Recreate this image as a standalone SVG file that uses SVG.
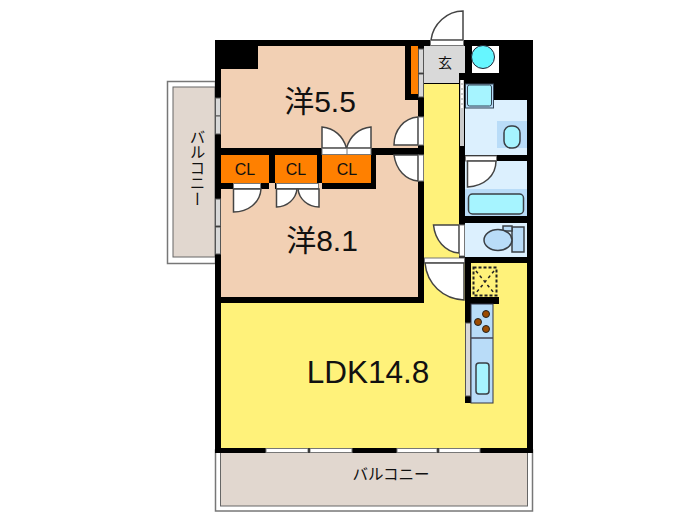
<svg xmlns="http://www.w3.org/2000/svg" width="700" height="525" viewBox="0 0 700 525">
<style>
text{font-family:"Liberation Sans","Noto Sans CJK JP",sans-serif;fill:#111;text-anchor:middle}
.big{font-size:30px}.cl{font-size:16px}.bal{font-size:15.500px}
.k{fill:#000}.y{fill:#fff27a}.p{fill:#f2d0b4}.o{fill:#ff8000}.lb{fill:#dcf0fe}.mb{fill:#b9dcf8}.cy{fill:#a6f4ff}
.e{stroke:#3a3f45;stroke-width:1.5}
.d{fill:#fff;stroke:#444;stroke-width:1.5}
.w{fill:#fff;stroke:#777;stroke-width:1}
.g{fill:#d8d8d8;stroke:#555;stroke-width:1}
</style>
<rect width="700" height="525" fill="#fff"/>
<g id="balcony-left">
<rect x="167.500" y="81.500" width="48" height="182" fill="#fff" stroke="#777" stroke-width="1.500"/>
<rect x="173" y="87" width="42" height="170" fill="#e1d7cf" stroke="#666"/>
<text class="bal" writing-mode="vertical-rl" x="196" y="168">バルコニー</text>
</g>
<g id="balcony-bottom">
<rect x="215.500" y="450" width="317" height="61" fill="#fff" stroke="#777" stroke-width="1.500"/>
<rect x="220.500" y="452" width="307" height="54" fill="#e1d7cf" stroke="#666"/>
<text class="bal" x="391" y="480">バルコニー</text>
</g>
<g id="walls">
<rect class="k" x="215" y="40" width="318" height="413"/>
</g>
<g id="room-5-5">
<path class="p" d="M258 46H405V100H418V148H221V69H258Z"/>
<text class="big" x="320" y="112">洋5.5</text>
</g>
<g id="room-8-1">
<path class="p" d="M221 189H269V183H275V189H317V183H322V189H376V155H418V297H221Z"/>
<text class="big" x="322" y="251">洋8.1</text>
</g>
<g id="closets">
<rect class="o" x="221" y="155" width="48" height="28"/>
<rect class="o" x="275" y="155" width="42" height="28"/>
<rect class="o" x="322" y="155" width="49" height="28"/>
<rect class="o" x="411" y="46" width="7" height="48"/>
<text class="cl" x="245" y="174.500">CL</text>
<text class="cl" x="296" y="174.500">CL</text>
<text class="cl" x="347" y="174.500">CL</text>
</g>
<g id="ldk">
<path class="y" d="M221 303H424V84H459V258H465V263H527V448H221Z"/>
<rect class="k" x="465" y="258" width="6" height="145"/>
<rect class="k" x="465" y="297" width="34" height="7"/>
<text class="big" x="368" y="383" style="font-size:31.500px">LDK14.8</text>
</g>
<g id="entry">
<path fill="#d9d9d9" d="M424 46H465V73H459V83H424Z"/>
<text x="445" y="68" style="font-size:14px">玄</text>
<path class="d" d="M431 40C433 24 447 11 463 11V40Z"/>
<rect class="w" x="430.500" y="40.500" width="33" height="5"/>
</g>
<g id="meter">
<rect fill="#fff" x="472" y="46" width="27" height="27"/>
<circle cx="483" cy="57" r="11.500" fill="#66f6ff" stroke="#223" stroke-width="1"/>
</g>
<g id="wash">
<path class="lb" d="M465 100H527V155H465Z"/>
<rect class="mb" x="465.500" y="84" width="28" height="24" stroke="#345"/>
<rect class="cy" x="467.500" y="85" width="24" height="21" rx="2" stroke="#345"/>
<rect class="mb" x="497" y="121" width="30" height="27"/>
<rect class="cy e" x="504" y="126" width="16" height="22" rx="7"/>
<rect x="465" y="155" width="62" height="6" fill="#000"/>
</g>
<g id="bath">
<rect class="lb" x="465" y="161" width="62" height="28"/>
<rect class="mb" x="465" y="189" width="62" height="27"/>
<rect class="cy e" x="468.500" y="194" width="55" height="20" rx="4"/>
<rect class="w" x="465.500" y="156" width="31" height="5"/>
<path class="d" d="M467.500 161H496C496 176 484 186 467.500 187Z"/>
</g>
<g id="toilet">
<rect class="lb" x="465" y="223" width="62" height="34"/>
<rect class="mb e" x="512" y="227" width="12" height="25" stroke-width="1"/>
<rect class="mb e" x="503" y="226" width="9" height="5"/>
<ellipse cx="498" cy="240" rx="14" ry="10.500" class="mb e"/>
</g>
<g id="closet-dashed">
<rect x="473.500" y="267.500" width="23" height="28" fill="none" stroke="#222" stroke-width="2" stroke-dasharray="3 2"/>
<path d="M476 271L494 293M494 271L476 293" stroke="#222" stroke-width="1.500" stroke-dasharray="3 3" fill="none"/>
</g>
<g id="kitchen">
<rect class="mb" x="471" y="304" width="22" height="99" stroke="#334" stroke-width="1"/>
<circle cx="486" cy="314" r="3.500" fill="#9c4a00" stroke="#222"/>
<circle cx="478" cy="322" r="3.500" fill="#9c4a00" stroke="#222"/>
<circle cx="486" cy="329" r="3.500" fill="#9c4a00" stroke="#222"/>
<path d="M471 338H493" stroke="#445" stroke-width="1.500"/>
<rect class="cy e" x="476" y="363" width="13" height="31" rx="3"/>
<rect class="g" x="465.500" y="323" width="5" height="73"/>
</g>
<g id="doors">
<path class="d" d="M322 148V127C334 128 343 136 346.500 148Z"/>
<path class="d" d="M371 148V127C359 128 350 136 346.500 148Z"/>
<rect class="w" x="322" y="148.500" width="49" height="6"/>
<path class="w" d="M347 148V155"/>
<rect class="w" x="233.500" y="183.500" width="27" height="5"/>
<path class="d" d="M233.500 189H261C260 203 248 212 233.500 212Z"/>
<rect class="w" x="276.500" y="183.500" width="42" height="5"/>
<path class="d" d="M276.500 189H297C296 199 287 207 276.500 207Z"/>
<path class="d" d="M319 189H298C299 199 308 207 319 207Z"/>
<path class="d" d="M394 145C394 130 404 118 418 117V145Z"/>
<rect class="w" x="418.500" y="117" width="5" height="28"/>
<path class="d" d="M394 155C396 170 406 180 418 181V155Z"/>
<rect class="w" x="418.500" y="155" width="5" height="26"/>
<path class="d" d="M433.500 225H459V253C445 252 435 240 433.500 225Z"/>
<rect class="w" x="459.500" y="225" width="5" height="31"/>
<rect class="w" x="424.500" y="258" width="40" height="5"/>
<path class="d" d="M425 263H464V300C443 299 427 284 425 263Z"/>
<rect class="g" x="418.500" y="49" width="5" height="24"/>
<rect class="g" x="418.500" y="74" width="5" height="23"/>
<rect fill="#ccc" x="460" y="80" width="4" height="66"/>
<path d="M462 80V110" stroke="#fff" stroke-width="2" stroke-dasharray="3 2"/>
</g>
<g id="windows">
<rect class="g" x="215.500" y="98" width="5" height="18"/>
<rect class="g" x="215.500" y="116" width="5" height="18"/>
<rect class="g" x="215.500" y="199" width="5" height="27"/>
<rect class="g" x="215.500" y="227" width="5" height="27"/>
<rect class="w" x="266" y="448.500" width="42" height="4"/>
<rect class="w" x="310" y="448.500" width="42" height="4"/>
<rect class="w" x="397" y="448.500" width="40" height="4"/>
<rect class="w" x="439" y="448.500" width="41" height="4"/>
</g>
</svg>
